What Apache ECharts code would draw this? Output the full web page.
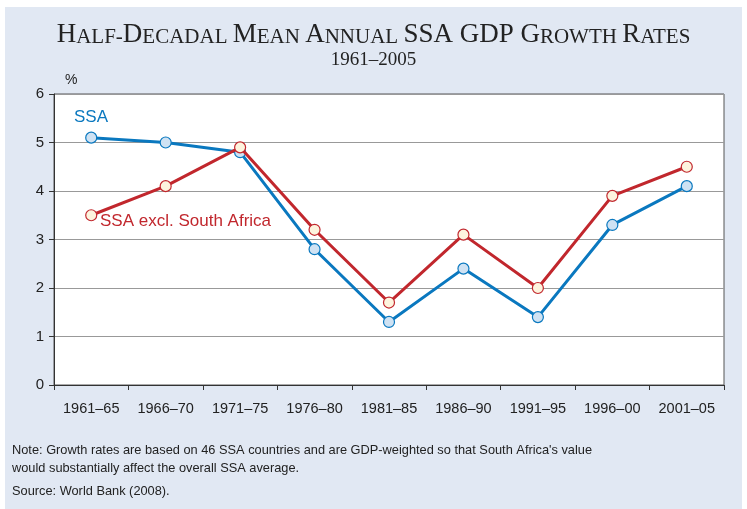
<!DOCTYPE html>
<html><head><meta charset="utf-8">
<script src="https://cdn.jsdelivr.net/npm/echarts@6/dist/echarts.min.js"></script>
<style>html,body{margin:0;padding:0;background:#fff}#c{width:747px;height:509px}</style>
</head><body><div id="c"></div>
<script>
const categories = ['1961–65','1966–70','1971–75','1976–80','1981–85','1986–90','1991–95','1996–00','2001–05'];
const ssa = [5.1, 5.0, 4.8, 2.8, 1.3, 2.4, 1.4, 3.3, 4.1];
const ssaExSA = [3.5, 4.1, 4.9, 3.2, 1.7, 3.1, 2.0, 3.9, 4.5];
const yTicks = [0,1,2,3,4,5,6];

const chart = echarts.init(document.getElementById('c'), null, {renderer:'canvas'});
const serif = '"Liberation Serif", "Times New Roman", serif';
const sans = '"Liberation Sans", Arial, sans-serif';
const B = 27, S = 21;
chart.setOption({
  animation:false,
  backgroundColor:'#fff',
  graphic:[
    {type:'rect', z:-10, shape:{x:5,y:7,width:737,height:502}, style:{fill:'#e1e8f3'}},
    {type:'text', left:'center', top:21, style:{
      text:'{b|H}{s|ALF-}{b|D}{s|ECADAL }{b|M}{s|EAN }{b|A}{s|NNUAL }{b|SSA GDP G}{s|ROWTH }{b|R}{s|ATES}',
      rich:{b:{fontFamily:serif,fontSize:B,fill:'#222',verticalAlign:'bottom'},s:{fontFamily:serif,fontSize:S,fill:'#222',verticalAlign:'bottom'}}
    }},
    {type:'text', left:'center', top:51, style:{text:'1961–2005', fontFamily:serif, fontSize:19, fill:'#222'}},
    {type:'text', left:65, top:73, style:{text:'%', fontFamily:sans, fontSize:14, fill:'#222'}},
    {type:'text', left:74, top:109, style:{text:'SSA', fontFamily:sans, fontSize:17, fill:'#0a78bf'}},
    {type:'text', left:100, top:213, style:{text:'SSA excl. South Africa', fontFamily:sans, fontSize:17, fill:'#c1272d'}},
    {type:'text', left:12, top:441, style:{text:"Note: Growth rates are based on 46 SSA countries and are GDP-weighted so that South Africa's value\nwould substantially affect the overall SSA average.", fontFamily:sans, fontSize:12.8, lineHeight:18, fill:'#222'}},
    {type:'text', left:12, top:485, style:{text:'Source: World Bank (2008).', fontFamily:sans, fontSize:12.8, fill:'#222'}}
  ],
  grid:{left:54, top:94, width:670, height:291, show:true, backgroundColor:'#fff', borderColor:'#555', borderWidth:1},
  xAxis:{type:'category', data:categories, boundaryGap:true,
    axisLine:{lineStyle:{color:'#333', width:1}},
    axisTick:{show:true, length:5, alignWithLabel:false, lineStyle:{color:'#333'}},
    axisLabel:{fontFamily:sans, fontSize:14.5, color:'#222', margin:16}},
  yAxis:{type:'value', min:0, max:6, interval:1,
    axisLine:{show:true, lineStyle:{color:'#333'}},
    axisTick:{show:true, length:5, lineStyle:{color:'#333'}},
    axisLabel:{fontFamily:sans, fontSize:15, color:'#222', margin:10, formatter:v=>yTicks.includes(v)?String(v):''},
    splitLine:{show:true, lineStyle:{color:'#999', width:1}}},
  series:[
    {name:'SSA excl. South Africa', type:'line', data:ssaExSA, symbol:'circle', symbolSize:11,
      lineStyle:{color:'#c1272d', width:3}, itemStyle:{color:'#fdf4de', borderColor:'#c1272d', borderWidth:1.2}, z:3},
    {name:'SSA', type:'line', data:ssa, symbol:'circle', symbolSize:11,
      lineStyle:{color:'#0a78bf', width:3}, itemStyle:{color:'#cfe2f3', borderColor:'#0a78bf', borderWidth:1.2}, z:2}
  ]
});
</script></body></html>
